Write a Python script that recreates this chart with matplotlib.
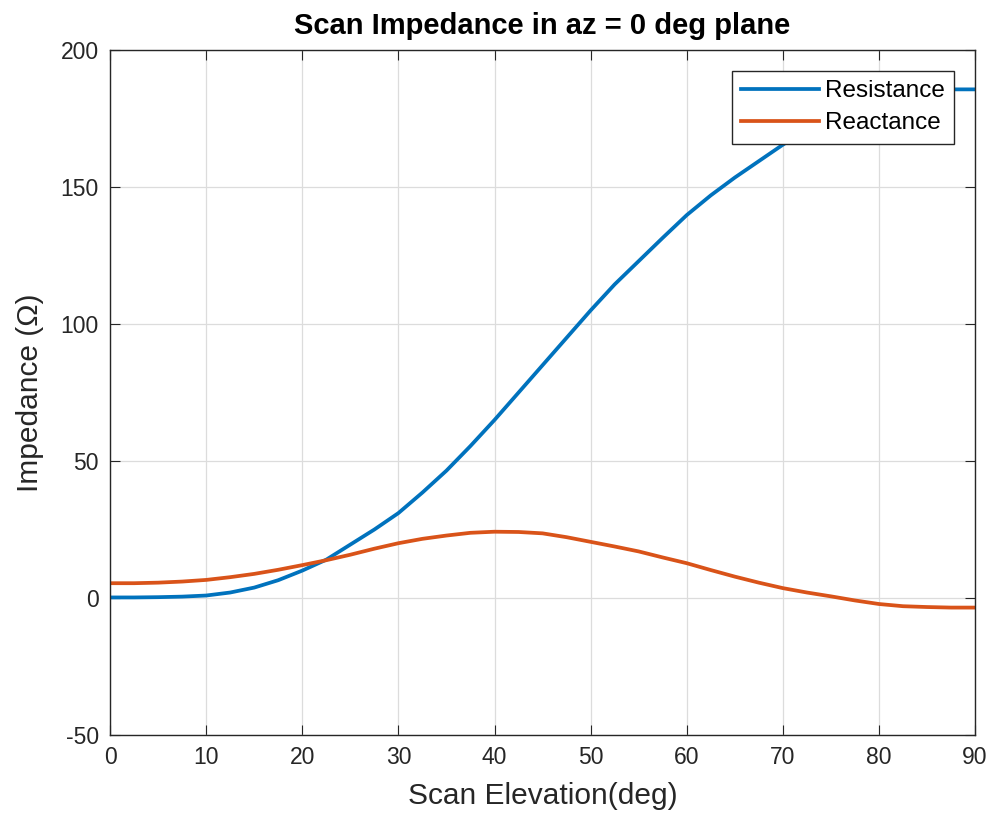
import numpy as np
import matplotlib.pyplot as plt

plt.rcParams['font.family'] = ['Liberation Sans', 'DejaVu Sans']
plt.rcParams['axes.unicode_minus'] = False

# values, every 2.5 deg
elev = [0, 2.5, 5, 7.5, 10, 12.5, 15, 17.5, 20, 22.5, 25, 27.5, 30, 32.5, 35, 37.5,
        40, 42.5, 45, 47.5, 50, 52.5, 55, 57.5, 60, 62.5, 65, 67.5, 70, 72.5, 75,
        77.5, 80, 82.5, 85, 87.5, 90]
resistance = [0.2, 0.2, 0.3, 0.5, 0.9, 2, 3.8, 6.5, 10, 14, 19.5, 25, 31, 38.5, 46.5, 55.5,
              65, 75, 85, 95, 105, 114.5, 123, 131.5, 139.8, 147, 153.5, 159.5, 165.5, 171, 175.5,
              179.5, 182.5, 184.5, 185.5, 185.7, 185.7]
reactance = [5.4, 5.4, 5.6, 6, 6.6, 7.6, 8.8, 10.3, 12, 13.8, 15.8, 18, 20, 21.6, 22.8, 23.8,
             24.2, 24.1, 23.6, 22.2, 20.5, 18.8, 17, 14.8, 12.7, 10.2, 7.8, 5.6, 3.6, 2, 0.6,
             -0.9, -2.2, -3, -3.3, -3.5, -3.5]

x_ticks = np.arange(0, 91, 10)
y_ticks = np.arange(-50, 201, 50)

fig = plt.figure(figsize=(9.95, 8.23), dpi=100)
ax = fig.add_axes([0.1106, 0.107, 0.8694, 0.832])

ax.plot(elev, resistance, color='#0072BD', linewidth=2.7, label='Resistance')
ax.plot(elev, reactance, color='#D95319', linewidth=2.7, label='Reactance')

ax.set_xlim(0, 90)
ax.set_ylim(-50, 200)
ax.set_xticks(x_ticks)
ax.set_yticks(y_ticks)
ax.grid(True, color='#dcdcdc', linewidth=0.9)
ax.set_axisbelow(True)
ax.tick_params(direction='in', top=True, right=True, labelsize=16.5,
               colors='#262626', length=7, pad=8)
for s in ax.spines.values():
    s.set_color('#262626')
    s.set_linewidth(1.0)

ax.set_title('Scan Impedance in az = 0 deg plane', fontsize=21, fontweight='bold', pad=12)
ax.set_xlabel('Scan Elevation(deg)', fontsize=21.5, color='#262626', labelpad=9)
ax.set_ylabel('Impedance (\u03a9)', fontsize=21.5, color='#262626', labelpad=12)

leg = ax.legend(loc='upper right', bbox_to_anchor=(1, 1), fontsize=17.5,
                fancybox=False, framealpha=1, edgecolor='#262626',
                handlelength=3.2, borderpad=0.38, labelspacing=0.42, handletextpad=0.25,
                borderaxespad=0.85)
leg.get_frame().set_linewidth(1.0)

plt.savefig('out.png', dpi=100)
